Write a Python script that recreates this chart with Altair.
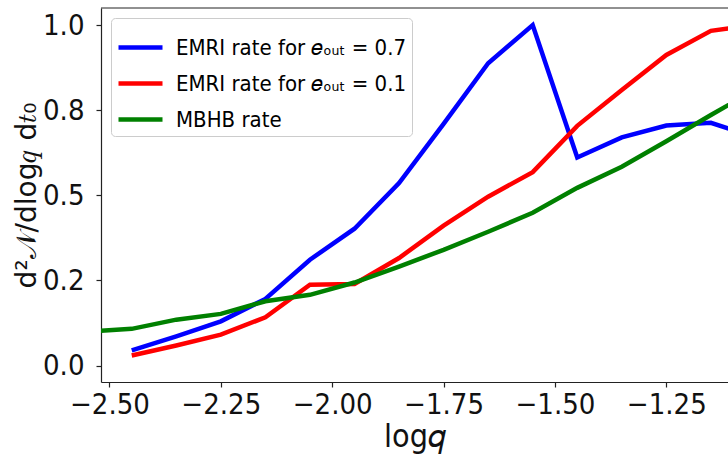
import altair as alt
import pandas as pd

# x positions (log q)
x_vals = [-2.55, -2.45, -2.35, -2.25, -2.15, -2.05, -1.95, -1.85,
          -1.75, -1.65, -1.55, -1.45, -1.35, -1.25, -1.15, -1.05]

# EMRI rate e_out = 0.7 (starts at -2.45)
emri_07 = [0.045, 0.086, 0.130, 0.196, 0.311, 0.402, 0.536, 0.710,
           0.888, 1.000, 0.611, 0.670, 0.705, 0.713, 0.670]
# EMRI rate e_out = 0.1 (starts at -2.45)
emri_01 = [0.030, 0.059, 0.091, 0.142, 0.2375, 0.240, 0.316, 0.411,
           0.496, 0.568, 0.704, 0.809, 0.912, 0.983, 1.000]
# MBHB rate (starts at -2.55)
mbhb = [0.100, 0.108, 0.135, 0.152, 0.189, 0.208, 0.244, 0.291, 0.340,
        0.393, 0.449, 0.522, 0.584, 0.659, 0.736, 0.810]

names = ["EMRI rate for 𝑒ₒᵤₜ = 0.7", "EMRI rate for 𝑒ₒᵤₜ = 0.1", "MBHB rate"]
colors = ["#0000ff", "#ff0000", "#008000"]

x_ticks = [-2.5, -2.25, -2.0, -1.75, -1.5, -1.25]
y_ticks = [0.0, 0.25, 0.5, 0.75, 1.0]

rows = []
for xv, v in zip(x_vals[1:], emri_07):
    rows.append({"logq": xv, "rate": v, "series": names[0]})
for xv, v in zip(x_vals[1:], emri_01):
    rows.append({"logq": xv, "rate": v, "series": names[1]})
for xv, v in zip(x_vals, mbhb):
    rows.append({"logq": xv, "rate": v, "series": names[2]})
df = pd.DataFrame(rows)

W, H = 627, 374
TICK_FONT = "DejaVu Sans Condensed"

lines = alt.Chart(df).mark_line(strokeWidth=4.5, clip=True).encode(
    x=alt.X("logq:Q",
            scale=alt.Scale(domain=[-2.519, -1.1116], nice=False, zero=False),
            axis=alt.Axis(values=x_ticks, format=".2f", title="log𝑞",
                          grid=False, tickSize=5, labelPadding=3,
                          labelFont=TICK_FONT, labelFontSize=29,
                          titlePadding=2, titleFontWeight="normal",
                          titleFont=TICK_FONT, titleFontSize=32)),
    y=alt.Y("rate:Q",
            scale=alt.Scale(domain=[-0.048, 1.05], nice=False, zero=False),
            axis=alt.Axis(values=y_ticks,
                          labelExpr="datum.value == 0.25 ? '0.2' : format(datum.value, '.1f')",
                          labelFont=TICK_FONT, labelFontSize=29,
                          title="d²𝒩/dlog𝑞 d𝑡₀", grid=False, tickSize=5,
                          labelPadding=12, titlePadding=1,
                          titleFontWeight="normal", titleFont="DejaVu Sans",
                          titleFontSize=28)),
    color=alt.Color("series:N",
                    scale=alt.Scale(domain=names, range=colors),
                    sort=names,
                    legend=alt.Legend(title=None, orient="top-left", offset=10,
                                      symbolType="stroke", symbolSize=1936,
                                      symbolStrokeWidth=4.5,
                                      labelFont=TICK_FONT, labelFontSize=22,
                                      labelOffset=11, rowPadding=0,
                                      padding=5, fillColor="white",
                                      strokeColor="#cccccc", cornerRadius=4,
                                      labelLimit=400)),
)

frame = alt.Chart(pd.DataFrame({"k": [0]})).mark_rule(color="#222222", strokeWidth=1).encode(
    x=alt.value(0), x2=alt.value(W), y=alt.value(0)
)

chart = alt.layer(lines, frame).properties(
    width=W, height=H,
    background="white",
    autosize=alt.AutoSizeParams(type="none"),
    padding={"left": 101, "top": 8, "right": 0, "bottom": 75},
).configure_view(stroke=None).configure_axis(
    domainColor="#222222", tickColor="#222222", labelColor="#111111",
    titleColor="#111111", domainWidth=1.2, tickWidth=1.2,
)

chart.save("out.html", embed_options={"renderer": "svg", "actions": False})
